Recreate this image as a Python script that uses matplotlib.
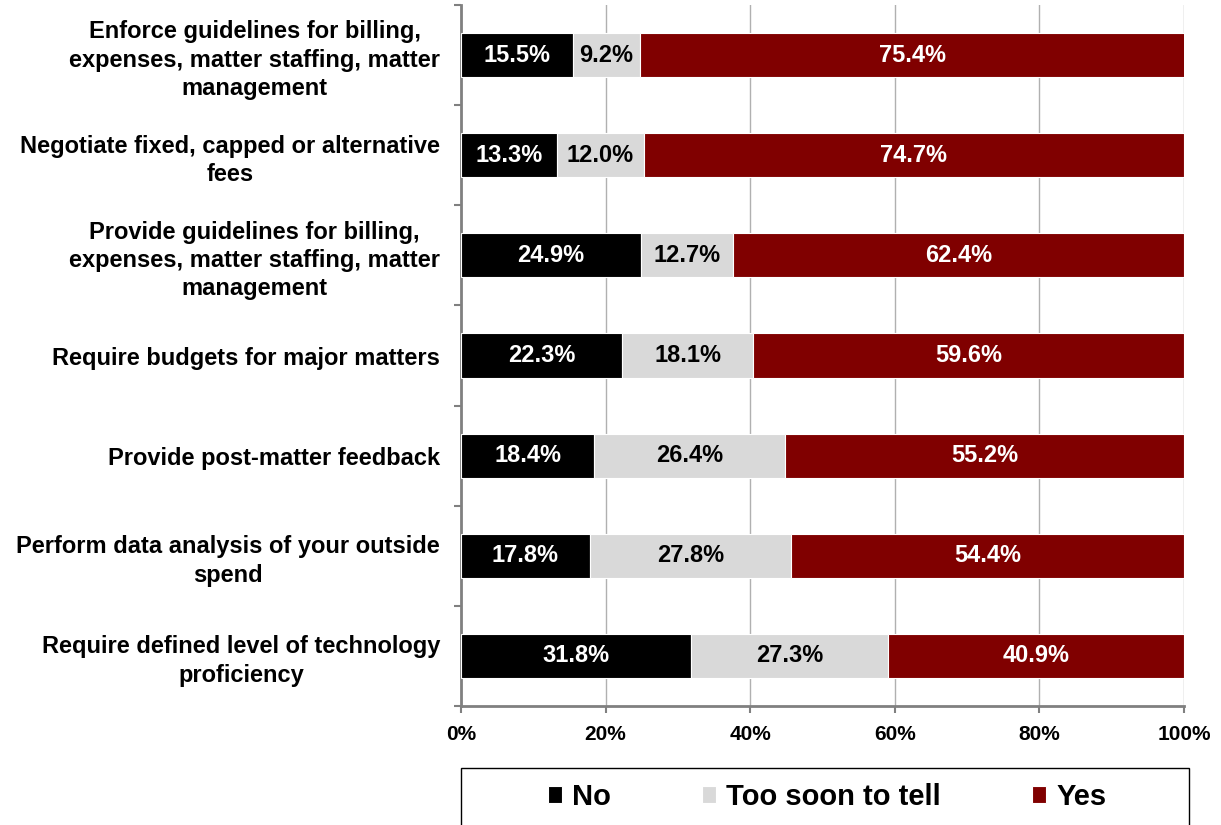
import numpy as np
import matplotlib.pyplot as plt
from matplotlib.patches import Rectangle
from matplotlib.ticker import FixedLocator, NullFormatter

plt.rcParams['font.family'] = ['Liberation Sans', 'DejaVu Sans']
plt.rcParams['font.weight'] = 'bold'

categories = [
    'Enforce guidelines for billing,\nexpenses, matter staffing, matter\nmanagement',
    'Negotiate fixed, capped or alternative\nfees',
    'Provide guidelines for billing,\nexpenses, matter staffing, matter\nmanagement',
    'Require budgets for major matters',
    'Provide post-matter feedback',
    'Perform data analysis of your outside\nspend',
    'Require defined level of technology\nproficiency',
]
no_vals = [15.5, 13.3, 24.9, 22.3, 18.4, 17.8, 31.8]
soon_vals = [9.2, 12.0, 12.7, 18.1, 26.4, 27.8, 27.3]
yes_vals = [75.4, 74.7, 62.4, 59.6, 55.2, 54.4, 40.9]

series = [
    ('No', no_vals, '#000000', 'white'),
    ('Too soon to tell', soon_vals, '#d9d9d9', 'black'),
    ('Yes', yes_vals, '#800000', 'white'),
]

W, H = 1221, 825
fig = plt.figure(figsize=(W / 100, H / 100), dpi=100)
ax = fig.add_axes([461 / W, 1 - 706 / H, (1184 - 461) / W, 701 / H])

y = np.arange(len(categories))
left = np.zeros(len(categories))
handles = []
for name, vals, color, txt in series:
    vals = np.array(vals)
    bars = ax.barh(y, vals, left=left, height=0.44, color=color,
                   edgecolor='white', linewidth=0.8, label=name, zorder=3)
    handles.append(bars)
    for yi, l, v in zip(y, left, vals):
        ax.text(l + v / 2, yi, f'{v:.1f}%', ha='center', va='center',
                color=txt, fontsize=17, fontweight='bold', zorder=4)
    left += vals

ax.set_xlim(0, 100)
ax.set_ylim(len(categories) - 0.5, -0.5)
ax.set_xticks(np.arange(0, 101, 20))
ax.set_xticklabels([f'{v}%' for v in range(0, 101, 20)], fontsize=15, fontweight='bold')
ax.grid(axis='x', color='#b0b0b0', linewidth=1, zorder=0)

ax.set_yticks(y)
ax.set_yticklabels(categories, fontsize=17, fontweight='bold',
                   linespacing=1.3, multialignment='center')
ax.tick_params(axis='y', length=0, pad=15)
# small tick marks between the categories
ax.yaxis.set_minor_locator(FixedLocator(np.arange(-0.5, len(categories), 1)))
ax.yaxis.set_minor_formatter(NullFormatter())
ax.tick_params(axis='y', which='minor', length=5, color='#808080', width=1.5)
ax.tick_params(axis='x', length=5, color='#808080', width=1.5, pad=9)

for s in ['top', 'right']:
    ax.spines[s].set_visible(False)
for s in ['left', 'bottom']:
    ax.spines[s].set_color('#808080')
    ax.spines[s].set_linewidth(2)

# legend box runs off the bottom edge
fig.patches.append(Rectangle((461 / W, -0.02), (1189 - 461) / W, 1 - 768 / H + 0.02,
                             transform=fig.transFigure, facecolor='white',
                             edgecolor='black', linewidth=1))
fig.legend(handles=handles, loc='center', ncol=3,
           bbox_to_anchor=(827 / W, 1 - 797 / H),
           prop={'size': 21, 'weight': 'bold'}, frameon=False,
           handlelength=0.5, handleheight=0.5, handletextpad=0.35,
           columnspacing=3.1, borderaxespad=0)

fig.savefig('out.png', dpi=100)
